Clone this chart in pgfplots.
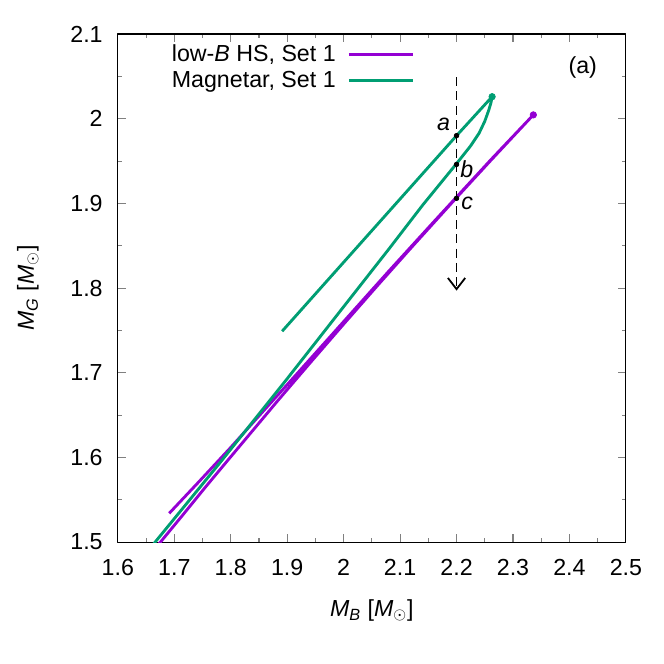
\documentclass[border=0pt]{standalone}
\usepackage{fontspec}
\setmainfont{Liberation Sans}
\usepackage{pgfplots}
\pgfplotsset{compat=1.18}
\usetikzlibrary{arrows.meta}
\definecolor{lowb}{HTML}{9400D3}
\definecolor{mag}{HTML}{009E73}
\begin{document}
\begin{tikzpicture}[font=\fontsize{13}{15}\selectfont]
\begin{axis}[
  width=10cm, height=10cm, scale only axis,
  xmin=1.6, xmax=2.5, ymin=1.5, ymax=2.1,
  xtick={1.6,1.7,1.8,1.9,2,2.1,2.2,2.3,2.4,2.5},
  ytick={1.5,1.6,1.7,1.8,1.9,2,2.1},
  minor x tick num=1, minor y tick num=1,
  tick align=inside,
  major tick length=4.5pt, minor tick length=2.3pt,
  tick style={gray, line width=0.6pt},
  axis line style={black, line width=0.6pt},
  /pgf/number format/assume math mode=true,
  ticklabel style={font=\fontsize{13}{15}\selectfont},
  xticklabel style={yshift=-6pt},
  yticklabel style={xshift=-5pt},
  xlabel={\textit{M}\textsubscript{\textit{B}} [\textit{M}$_\odot$]},
  ylabel={\textit{M}\textsubscript{\textit{G}} [\textit{M}$_\odot$]},
  xlabel style={at={(rel axis cs:0.5,-0.135)}, anchor=center},
  ylabel style={at={(rel axis cs:-0.177,0.5)}, anchor=center},
  legend plot pos=right,
  legend cell align=right,
  legend image code/.code={\draw[#1] (0cm,0cm) -- (1.27cm,0cm);},
  legend style={at={(rel axis cs:0.585,0.985)}, anchor=north east,
    draw=none, fill=none, inner sep=0pt, row sep=1pt,
    nodes={inner sep=1.5pt},
    /tikz/every odd column/.append style={column sep=5pt},
    font=\fontsize{13}{15}\selectfont},
  line join=round,
]
% low-B HS: returning branch (upper) up to the maximum, then main branch down
\addplot[lowb, line width=1.6pt] coordinates {
  (1.691,1.534) (1.740,1.5687) (1.800,1.6118) (1.860,1.6564) (1.920,1.7008)
  (2.000,1.7604) (2.080,1.8200) (2.160,1.8785) (2.260,1.9510) (2.336,2.0045)
  (2.260,1.9503) (2.200,1.9068) (2.120,1.8479) (2.060,1.8030) (2.000,1.7574)
  (1.940,1.7112) (1.882,1.666) (1.838,1.631) (1.794,1.596) (1.754,1.564)
  (1.715,1.532) (1.673,1.498) (1.648,1.478)
};
\addlegendentry{low-\textit{B} HS, Set 1}
\addplot[mag, line width=1.6pt] coordinates {
  (1.891,1.749) (2.200,1.980) (2.263,2.026)
  (2.261,2.019) (2.257,2.010) (2.250,1.997) (2.240,1.983) (2.225,1.968)
  (2.200,1.947) (2.140,1.898) (2.080,1.846) (2.020,1.795) (1.960,1.744)
  (1.900,1.693) (1.840,1.643) (1.780,1.593) (1.720,1.544) (1.666,1.500)
  (1.648,1.485)
};
\addlegendentry{Magnetar, Set 1}
\addplot[lowb, only marks, mark=*, mark size=1.8pt, forget plot] coordinates {(2.336,2.0045)};
\addplot[mag, only marks, mark=*, mark size=1.8pt, forget plot] coordinates {(2.263,2.026)};
\addplot[black, line width=1pt, dash pattern=on 5pt off 3pt,
  -{Straight Barb[length=2.2mm, width=3.4mm, line width=1pt]}, forget plot]
  coordinates {(2.2,2.049) (2.2,1.797)};
\addplot[black, only marks, mark=*, mark size=1.3pt, forget plot]
  coordinates {(2.2,1.980) (2.2,1.946) (2.2,1.906)};
\node at (axis cs:2.177,1.993) {\textit{a}};
\node at (axis cs:2.218,1.940) {\textit{b}};
\node at (axis cs:2.219,1.900) {\textit{c}};
\node at (rel axis cs:0.915,0.935) {(a)};
\coordinate (bl) at (rel axis cs:-0.232,-0.238);
\coordinate (tr) at (rel axis cs:1.075,1.067);
\end{axis}
\useasboundingbox (bl) rectangle (tr);
\end{tikzpicture}
\end{document}
